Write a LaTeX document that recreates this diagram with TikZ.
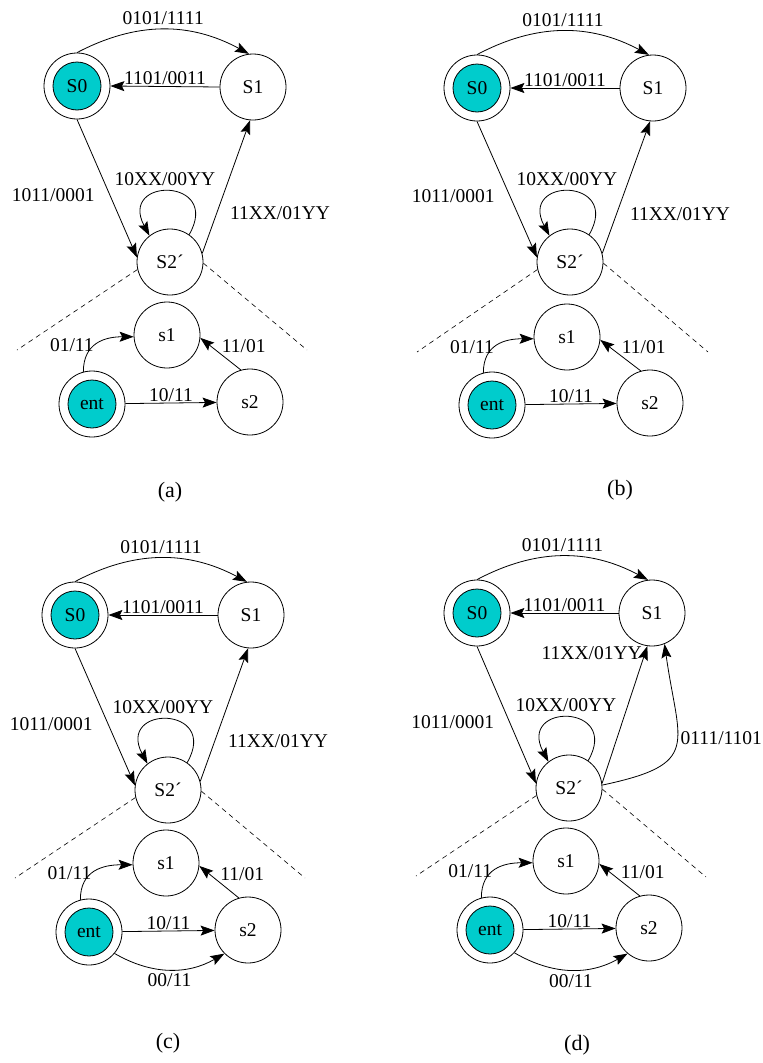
\documentclass[tikz,border=0pt]{standalone}
\usepackage{fontspec}
\setmainfont{Liberation Serif}
\usepackage{tikz}
\usetikzlibrary{arrows.meta}
\definecolor{stcyan}{RGB}{0,204,204}
\newcommand{\fsmfont}{\fontsize{19.5}{22}\selectfont}
\newcommand{\capfont}{\fontsize{22}{26}\selectfont}

\begin{document}
\begin{tikzpicture}[x=1pt, y=1pt, line width=0.8pt, font=\fsmfont,
  >={Stealth[length=14pt,width=10pt,inset=2.5pt]},
  fsm/.style={circle, draw, minimum size=66pt, inner sep=0pt},
  fsminit/.style={fsm, path picture={\draw[fill=stcyan] (path picture bounding box.center) circle (24pt);}},
  lbl/.style={inner sep=1pt},
  capt/.style={font=\capfont},
  dashline/.style={dash pattern=on 5pt off 4pt, line width=0.6pt}]
\useasboundingbox (0,0) rectangle (763,-1063);

% (a)
\node[fsminit] (S0a) at (77,-86) {S0};
\node[fsm] (S1a) at (253,-87) {S1};
\node[fsm] (S2a) at (170,-262) {S2´};
\node[fsm] (s1a) at (167,-335) {s1};
\node[fsminit] (enta) at (92,-404) {ent};
\node[fsm] (s2a) at (250,-402) {s2};
\node[capt] (capa) at (170,-492) {(a)};
\coordinate (dla) at (17,-350);
\coordinate (dra) at (307,-350);

\draw[->] (S0a.north) to[bend left=28] node[lbl, above=3pt] (la1) {0101/1111} (S1a.97);
\draw[->] (S1a.west) -- node[lbl, above] (la2) {1101/0011} (S0a.east);
\draw[->] (S0a.south) -- node[lbl, left=14pt, pos=0.55] (la3) {1011/0001} (S2a.172);
\draw[->] (S2a.15) -- node[lbl, right=12pt, pos=0.3] (la4) {11XX/01YY} (S1a.265);
\draw[->] (S2a.55) .. controls +(60:66) and +(118:67) .. node[lbl, above=4pt, xshift=-5pt] (la5) {10XX/00YY} (S2a.128);
\draw[dashline] (S2a.193) -- (dla);
\draw[dashline] (S2a.-2) -- (dra);
\draw[->] (enta.105) to[out=90, in=180, looseness=1.2] node[lbl, left, pos=0.45] (la6) {01/11} (s1a.183);
\draw[->] (enta) -- node[lbl, above] (la7) {10/11} (s2a);
\draw[->] (s2a.106) -- node[lbl, above right] (la8) {11/01} (s1a.-5);

% (b)
\node[fsminit] (S0b) at (477,-88) {S0};
\node[fsm] (S1b) at (653,-88) {S1};
\node[fsm] (S2b) at (570,-262) {S2´};
\node[fsm] (s1b) at (567,-337) {s1};
\node[fsminit] (entb) at (492,-405) {ent};
\node[fsm] (s2b) at (650,-403) {s2};
\node[capt] (capb) at (620,-490) {(b)};
\coordinate (dlb) at (417,-352);
\coordinate (drb) at (708,-352);

\draw[->] (S0b.north) to[bend left=28] node[lbl, above=3pt] (lb1) {0101/1111} (S1b.97);
\draw[->] (S1b.west) -- node[lbl, above] (lb2) {1101/0011} (S0b.east);
\draw[->] (S0b.south) -- node[lbl, left=14pt, pos=0.55] (lb3) {1011/0001} (S2b.172);
\draw[->] (S2b.15) -- node[lbl, right=12pt, pos=0.3] (lb4) {11XX/01YY} (S1b.265);
\draw[->] (S2b.55) .. controls +(60:66) and +(118:67) .. node[lbl, above=4pt, xshift=-3pt] (lb5) {10XX/00YY} (S2b.128);
\draw[dashline] (S2b.193) -- (dlb);
\draw[dashline] (S2b.-2) -- (drb);
\draw[->] (entb.105) to[out=90, in=180, looseness=1.2] node[lbl, left, pos=0.45] (lb6) {01/11} (s1b.183);
\draw[->] (entb) -- node[lbl, above] (lb7) {10/11} (s2b);
\draw[->] (s2b.106) -- node[lbl, above right] (lb8) {11/01} (s1b.-5);

% (c)
\node[fsminit] (S0c) at (75,-615) {S0};
\node[fsm] (S1c) at (251,-615) {S1};
\node[fsm] (S2c) at (168,-790) {S2´};
\node[fsm] (s1c) at (166,-863) {s1};
\node[fsminit] (entc) at (89,-932) {ent};
\node[fsm] (s2c) at (248,-930) {s2};
\node[capt] (capc) at (168,-1043) {(c)};
\coordinate (dlc) at (15,-878);
\coordinate (drc) at (305,-878);

\draw[->] (S0c.north) to[bend left=28] node[lbl, above=3pt] (lc1) {0101/1111} (S1c.97);
\draw[->] (S1c.west) -- node[lbl, above] (lc2) {1101/0011} (S0c.east);
\draw[->] (S0c.south) -- node[lbl, left=14pt, pos=0.55] (lc3) {1011/0001} (S2c.172);
\draw[->] (S2c.15) -- node[lbl, right=12pt, pos=0.3] (lc4) {11XX/01YY} (S1c.265);
\draw[->] (S2c.55) .. controls +(60:66) and +(118:67) .. node[lbl, above=4pt, xshift=-5pt] (lc5) {10XX/00YY} (S2c.128);
\draw[dashline] (S2c.193) -- (dlc);
\draw[dashline] (S2c.-2) -- (drc);
\draw[->] (entc.105) to[out=90, in=180, looseness=1.2] node[lbl, left, pos=0.45] (lc6) {01/11} (s1c.183);
\draw[->] (entc) -- node[lbl, above] (lc7) {10/11} (s2c);
\draw[->] (s2c.106) -- node[lbl, above right] (lc8) {11/01} (s1c.-5);
\draw[->] (entc.-40) to[bend right=30] node[lbl, below=3pt] (lc9) {00/11} (s2c.225);

% (d)
\node[fsminit] (S0d) at (477,-613) {S0};
\node[fsm] (S1d) at (652,-613) {S1};
\node[fsm] (S2d) at (569,-788) {S2´};
\node[fsm] (s1d) at (566,-861) {s1};
\node[fsminit] (entd) at (490,-930) {ent};
\node[fsm] (s2d) at (649,-928) {s2};
\node[capt] (capd) at (577,-1045) {(d)};
\coordinate (dld) at (416,-876);
\coordinate (drd) at (706,-877);

\draw[->] (S0d.north) to[bend left=28] node[lbl, above=3pt] (ld1) {0101/1111} (S1d.97);
\draw[->] (S1d.west) -- node[lbl, above] (ld2) {1101/0011} (S0d.east);
\draw[->] (S0d.south) -- node[lbl, left=14pt, pos=0.55] (ld3) {1011/0001} (S2d.172);
\draw[->] (S2d.8) -- node[lbl, left=2pt, pos=0.95] (ld4) {11XX/01YY} (S1d.262);
\draw[->] (S2d.55) .. controls +(60:66) and +(118:67) .. node[lbl, above=4pt, xshift=-3pt] (ld5) {10XX/00YY} (S2d.128);
\draw[dashline] (S2d.193) -- (dld);
\draw[dashline] (S2d.-2) -- (drd);
\draw[->] (entd.105) to[out=90, in=180, looseness=1.2] node[lbl, left, pos=0.45] (ld6) {01/11} (s1d.183);
\draw[->] (entd) -- node[lbl, above] (ld7) {10/11} (s2d);
\draw[->] (s2d.106) -- node[lbl, above right] (ld8) {11/01} (s1d.-5);
\draw[->] (entd.-43) to[bend right=30] node[lbl, below=3pt] (ld9) {00/11} (s2d.230);
\draw[->] (S2d.5) to[out=12, in=-82, looseness=1.7] node[lbl, right=2pt, pos=0.55] (ld10) {0111/1101} (S1d.-68);
\end{tikzpicture}
\end{document}
